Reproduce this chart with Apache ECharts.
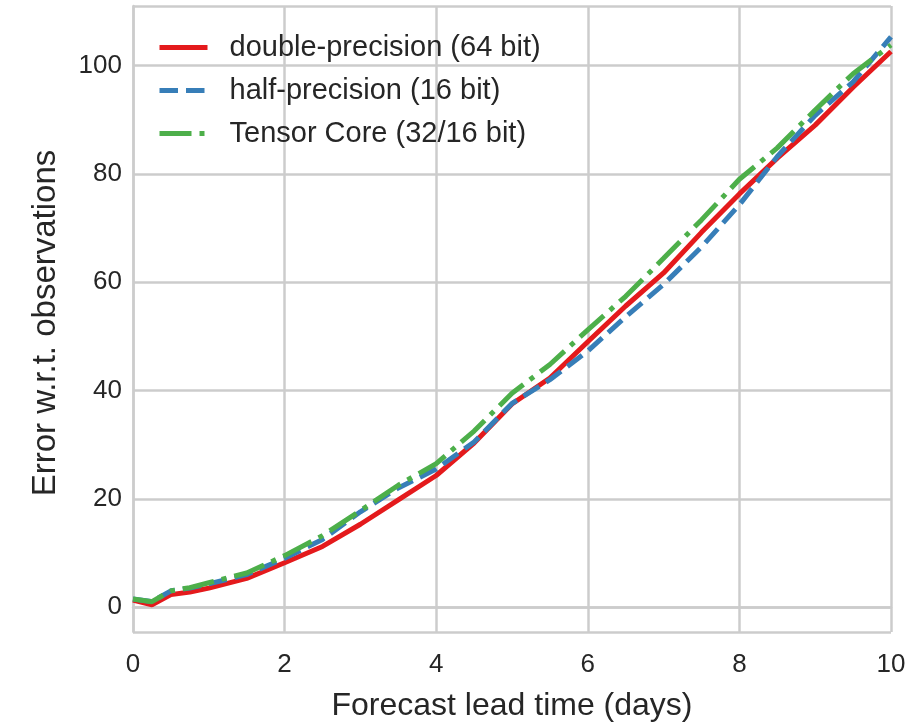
<!DOCTYPE html>
<html>
<head>
<meta charset="utf-8">
<script src="https://cdn.jsdelivr.net/npm/echarts@6/dist/echarts.min.js"></script>
<style>
html,body{margin:0;padding:0;background:#fff;}
#chart{width:917px;height:724px;}
</style>
</head>
<body>
<div id="chart"></div>
<script>
const days = [0, 0.25, 0.5, 0.75, 1, 1.5, 2, 2.5, 3, 3.5, 4, 4.5, 5, 5.5, 6, 6.5, 7, 7.5, 8, 8.5, 9, 9.5, 10];
const doublePrecision = [1.3, 0.4, 2.3, 2.8, 3.5, 5.3, 8.2, 11.2, 15.3, 19.8, 24.3, 30.3, 37.5, 42.3, 49.0, 55.6, 61.7, 69.2, 76.3, 82.9, 89.0, 96.0, 102.6];
const halfPrecision = [1.5, 1.0, 3.0, 3.5, 4.3, 6.0, 9.0, 12.5, 17.6, 22.0, 25.5, 30.5, 37.6, 42.0, 47.3, 53.6, 59.6, 66.5, 74.3, 83.2, 90.8, 97.0, 105.3];
const tensorCore = [1.5, 1.0, 3.0, 3.6, 4.5, 6.3, 9.5, 13.2, 17.8, 22.5, 26.5, 32.5, 39.5, 44.8, 51.2, 57.4, 64.4, 71.5, 79.0, 84.8, 91.8, 98.5, 103.8];
const seriesNames = ['double-precision (64 bit)', 'half-precision (16 bit)', 'Tensor Core (32/16 bit)'];
const xTicks = [0, 2, 4, 6, 8, 10];
const yTicks = [0, 20, 40, 60, 80, 100];

const pairs = arr => days.map((d, i) => [d, arr[i]]);
const font = 'Liberation Sans, Arial, Helvetica, sans-serif';
const txt = '#262626';
const gridCol = '#cccccc';

const chart = echarts.init(document.getElementById('chart'), null, {renderer: 'canvas'});
chart.setOption({
  animation: false,
  backgroundColor: '#ffffff',
  textStyle: {fontFamily: font, color: txt},
  grid: {left: 133, right: 26, top: 6, bottom: 92, containLabel: false, outerBoundsMode: 'none'},
  legend: {
    orient: 'vertical',
    left: 152,
    top: 27,
    itemWidth: 48,
    itemHeight: 14,
    itemGap: 12,
    itemStyle: {opacity: 0},
    lineStyle: {width: 5},
    textStyle: {fontFamily: font, fontSize: 29, color: txt, padding: [0, 0, 0, 17], lineHeight: 31},
    data: seriesNames
  },
  xAxis: {
    type: 'value',
    min: 0,
    max: 10,
    interval: 2,
    name: 'Forecast lead time (days)',
    nameLocation: 'middle',
    nameGap: 58,
    nameTextStyle: {fontFamily: font, fontSize: 32, color: txt},
    axisLine: {show: true, lineStyle: {color: gridCol, width: 2.5}},
    axisTick: {show: false},
    axisLabel: {fontFamily: font, fontSize: 26, color: txt, margin: 20,
      formatter: v => (xTicks.indexOf(v) >= 0 ? String(v) : '')},
    splitLine: {show: true, lineStyle: {color: gridCol, width: 2.5}}
  },
  yAxis: {
    type: 'value',
    min: -4.6,
    max: 111,
    splitNumber: 5,
    name: 'Error w.r.t. observations',
    nameLocation: 'middle',
    nameGap: 71,
    nameTextStyle: {fontFamily: font, fontSize: 33, color: txt, padding: [0, 8, 0, 0]},
    axisLine: {show: true, lineStyle: {color: gridCol, width: 2.5}},
    axisTick: {show: false},
    axisLabel: {fontFamily: font, fontSize: 26, color: txt, margin: 11,
      showMinLabel: false, showMaxLabel: false,
      formatter: v => (yTicks.indexOf(v) >= 0 ? String(v) : '')},
    splitLine: {show: true, lineStyle: {color: gridCol, width: 2.5}}
  },
  series: [
    {name: seriesNames[0], type: 'line', data: pairs(doublePrecision), showSymbol: false, symbol: 'none',
      color: '#e41a1c', lineStyle: {color: '#e41a1c', width: 5, type: 'solid'}},
    {name: seriesNames[1], type: 'line', data: pairs(halfPrecision), showSymbol: false, symbol: 'none',
      color: '#377eb8', lineStyle: {color: '#377eb8', width: 5, type: [18.5, 8]}},
    {name: seriesNames[2], type: 'line', data: pairs(tensorCore), showSymbol: false, symbol: 'none',
      color: '#4daf4a', lineStyle: {color: '#4daf4a', width: 5, type: [32, 8, 5, 8]}}
  ]
});
</script>
</body>
</html>
